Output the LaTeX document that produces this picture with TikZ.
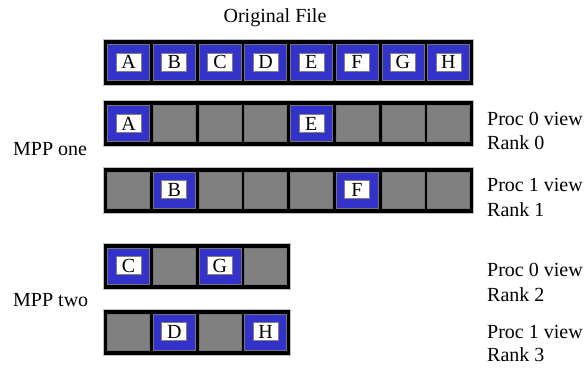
\documentclass[tikz,border=0pt]{standalone}
\usepackage{fontspec}
\setmainfont{Liberation Serif}
\newfontfamily\tms{Liberation Serif}
\definecolor{cellblue}{RGB}{51,51,204}
\definecolor{cellgray}{RGB}{128,128,128}
\begin{document}
\begin{tikzpicture}[x=1pt,y=-1pt,
  bar/.style={draw=black!25, line width=0.6pt, fill=black, inner sep=0pt, anchor=north west, minimum height=46pt},
  cellbase/.style={draw=black!55, line width=0.5pt, inner sep=0pt, anchor=north west, minimum width=42pt, minimum height=36pt},
  bluecell/.style={cellbase, fill=cellblue},
  graycell/.style={cellbase, fill=cellgray},
  lbl/.style={fill=white, draw=black!50, line width=0.6pt, inner sep=0pt, minimum width=25pt, minimum height=18pt, text height=13.5pt, text depth=0pt, font=\tms\fontsize{20}{24}\selectfont},
  txt/.style={font=\tms\fontsize{20}{24}\selectfont, inner sep=0pt, anchor=base west}]
\useasboundingbox (0,0) rectangle (586,369);
% title
\node[txt, anchor=base] (title) at (275,23) {Original File};
% row 1
\node[bar, minimum width=370pt] (bar1) at (103,39) {};
\foreach \i/\l in {0/A,1/B,2/C,3/D,4/E,5/F,6/G,7/H} {
  \node[bluecell] (r1c\i) at ({107.3+45.7*\i},44) {};
  \node[lbl] (r1l\i) at (r1c\i.center) {\l};
}
% row 2
\node[bar, minimum width=370pt] (bar2) at (103,100) {};
\foreach \i in {1,2,3,5,6,7} { \node[graycell] (r2c\i) at ({107.3+45.7*\i},105) {}; }
\foreach \i/\l in {0/A,4/E} {
  \node[bluecell] (r2c\i) at ({107.3+45.7*\i},105) {};
  \node[lbl] (r2l\i) at (r2c\i.center) {\l};
}
% row 3
\node[bar, minimum width=370pt] (bar3) at (103,166.5) {};
\foreach \i in {0,2,3,4,6,7} { \node[graycell] (r3c\i) at ({107.3+45.7*\i},171.5) {}; }
\foreach \i/\l in {1/B,5/F} {
  \node[bluecell] (r3c\i) at ({107.3+45.7*\i},171.5) {};
  \node[lbl] (r3l\i) at (r3c\i.center) {\l};
}
% row 4
\node[bar, minimum width=187pt] (bar4) at (103,242.5) {};
\foreach \i in {1,3} { \node[graycell] (r4c\i) at ({107.3+45.7*\i},247.5) {}; }
\foreach \i/\l in {0/C,2/G} {
  \node[bluecell] (r4c\i) at ({107.3+45.7*\i},247.5) {};
  \node[lbl] (r4l\i) at (r4c\i.center) {\l};
}
% row 5
\node[bar, minimum width=187pt] (bar5) at (103,308.5) {};
\foreach \i in {0,2} { \node[graycell] (r5c\i) at ({107.3+45.7*\i},313.5) {}; }
\foreach \i/\l in {1/D,3/H} {
  \node[bluecell] (r5c\i) at ({107.3+45.7*\i},313.5) {};
  \node[lbl] (r5l\i) at (r5c\i.center) {\l};
}
% side labels
\node[txt] (mppone) at (13,155.5) {MPP one};
\node[txt] (mpptwo) at (13,306.5) {MPP two};
\node[txt] (p2a) at (487,125) {Proc 0 view};
\node[txt] (p2b) at (487,149) {Rank 0};
\node[txt] (p3a) at (487,191.7) {Proc 1 view};
\node[txt] (p3b) at (487,216) {Rank 1};
\node[txt] (p4a) at (487,276.7) {Proc 0 view};
\node[txt] (p4b) at (487,301.7) {Rank 2};
\node[txt] (p5a) at (487,338.3) {Proc 1 view};
\node[txt] (p5b) at (487,361.7) {Rank 3};
\end{tikzpicture}
\end{document}
